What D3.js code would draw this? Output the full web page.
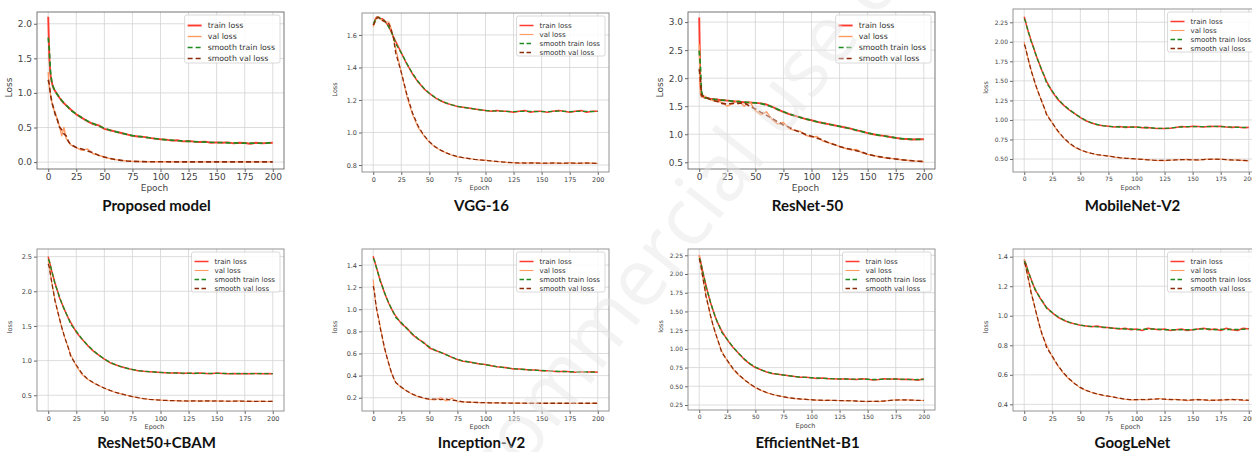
<!DOCTYPE html>
<html>
<head>
<meta charset="utf-8">
<script src="https://cdnjs.cloudflare.com/ajax/libs/d3/7.8.5/d3.min.js"></script>
<style>
body{margin:0;background:#fff;}
svg{display:block;}
</style>
</head>
<body>
<svg id="fig" width="1252" height="452"></svg>
<script>
// epochs sampled from the curves (dense at the start, every 5 epochs after)
var epochs = [0,1,2,3,4,5,6,8,10,12,14,16,18,20,25,30,35,40,45,50,55,60,65,70,75,80,85,90,95,100,105,110,115,120,125,130,135,140,145,150,155,160,165,170,175,180,185,190,195,200];
var xTicks = [0,25,50,75,100,125,150,175,200];
var legendLabels = ["train loss","val loss","smooth train loss","smooth val loss"];

var titles = ["Proposed model","VGG-16","ResNet-50","MobileNet-V2","ResNet50+CBAM","Inception-V2","EfficientNet-B1","GoogLeNet"];

var proposedTrain = [2.10,1.50,1.26,1.17,1.10,1.06,1.03,0.98,0.93,0.89,0.85,0.82,0.79,0.76,0.69,0.64,0.59,0.55,0.53,0.48,0.46,0.44,0.42,0.40,0.38,0.37,0.365,0.35,0.34,0.33,0.325,0.31,0.315,0.30,0.305,0.295,0.29,0.295,0.28,0.285,0.28,0.285,0.27,0.28,0.275,0.265,0.28,0.27,0.275,0.28];
var proposedVal = [1.30,1.08,0.98,0.88,0.82,0.76,0.72,0.62,0.52,0.38,0.50,0.34,0.30,0.25,0.21,0.17,0.19,0.12,0.10,0.07,0.05,0.035,0.025,0.015,0.01,0.008,0.006,0.005,0.005,0.004,0.004,0.004,0.003,0.003,0.003,0.003,0.003,0.003,0.003,0.003,0.003,0.003,0.003,0.003,0.003,0.003,0.003,0.003,0.003,0.003];

var vggTrain = [1.66,1.68,1.70,1.71,1.71,1.71,1.70,1.70,1.69,1.67,1.65,1.62,1.59,1.56,1.49,1.42,1.36,1.31,1.27,1.24,1.215,1.195,1.18,1.17,1.16,1.155,1.15,1.145,1.14,1.135,1.13,1.135,1.13,1.13,1.125,1.13,1.135,1.125,1.13,1.13,1.125,1.13,1.135,1.13,1.125,1.13,1.135,1.125,1.13,1.13];
var vggVal = [1.65,1.67,1.69,1.70,1.71,1.71,1.70,1.69,1.68,1.68,1.68,1.64,1.58,1.52,1.37,1.22,1.11,1.03,0.98,0.94,0.91,0.89,0.875,0.86,0.85,0.845,0.84,0.835,0.83,0.83,0.825,0.82,0.82,0.815,0.815,0.81,0.815,0.81,0.815,0.81,0.81,0.815,0.81,0.81,0.815,0.81,0.81,0.815,0.81,0.81];

var resnetTrain = [3.08,1.90,1.72,1.68,1.66,1.65,1.65,1.64,1.63,1.63,1.62,1.62,1.61,1.61,1.60,1.59,1.58,1.57,1.565,1.56,1.55,1.53,1.49,1.44,1.40,1.36,1.33,1.30,1.27,1.25,1.22,1.20,1.18,1.16,1.14,1.12,1.10,1.07,1.05,1.02,1.00,0.98,0.97,0.95,0.935,0.92,0.915,0.905,0.91,0.91];
var resnetVal = [2.60,1.72,1.66,1.70,1.67,1.68,1.66,1.64,1.62,1.60,1.60,1.58,1.58,1.57,1.50,1.55,1.60,1.50,1.58,1.42,1.35,1.40,1.26,1.18,1.21,1.10,1.07,1.05,0.98,0.95,0.96,0.88,0.85,0.82,0.78,0.75,0.72,0.73,0.67,0.64,0.62,0.60,0.58,0.57,0.56,0.545,0.535,0.525,0.52,0.51];

var mobileTrain = [2.32,2.27,2.21,2.16,2.11,2.07,2.02,1.94,1.85,1.77,1.70,1.62,1.56,1.49,1.36,1.26,1.19,1.13,1.08,1.03,0.99,0.96,0.94,0.925,0.92,0.91,0.915,0.905,0.91,0.91,0.90,0.905,0.895,0.89,0.89,0.895,0.905,0.915,0.91,0.92,0.915,0.91,0.92,0.915,0.92,0.91,0.905,0.91,0.90,0.905];
var mobileVal = [2.00,1.93,1.87,1.81,1.75,1.70,1.65,1.55,1.45,1.37,1.30,1.22,1.15,1.08,0.96,0.85,0.77,0.70,0.65,0.615,0.59,0.57,0.555,0.545,0.54,0.525,0.515,0.51,0.505,0.50,0.495,0.49,0.485,0.48,0.48,0.485,0.49,0.49,0.495,0.49,0.485,0.495,0.50,0.495,0.50,0.49,0.485,0.49,0.48,0.475];

var cbamTrain = [2.50,2.43,2.37,2.30,2.24,2.18,2.12,2.02,1.91,1.83,1.75,1.68,1.61,1.55,1.41,1.31,1.22,1.14,1.08,1.02,0.97,0.94,0.91,0.89,0.87,0.855,0.845,0.84,0.835,0.83,0.825,0.82,0.825,0.815,0.82,0.815,0.82,0.815,0.81,0.82,0.815,0.81,0.815,0.81,0.815,0.81,0.815,0.81,0.815,0.81];
var cbamVal = [2.45,2.34,2.24,2.14,2.05,1.96,1.88,1.74,1.60,1.48,1.37,1.27,1.18,1.09,0.92,0.80,0.73,0.68,0.64,0.60,0.57,0.54,0.52,0.50,0.48,0.465,0.45,0.44,0.435,0.43,0.425,0.42,0.425,0.415,0.42,0.415,0.42,0.415,0.42,0.415,0.42,0.41,0.415,0.42,0.41,0.415,0.41,0.415,0.41,0.415];

var inceptionTrain = [1.48,1.44,1.41,1.37,1.34,1.30,1.27,1.21,1.15,1.10,1.05,1.01,0.97,0.94,0.87,0.83,0.77,0.73,0.70,0.65,0.63,0.61,0.59,0.565,0.545,0.53,0.525,0.515,0.505,0.50,0.49,0.48,0.475,0.47,0.46,0.46,0.455,0.45,0.45,0.445,0.445,0.44,0.435,0.44,0.435,0.43,0.435,0.43,0.435,0.43];
var inceptionVal = [1.27,1.15,1.07,1.00,0.95,0.91,0.86,0.75,0.64,0.58,0.50,0.43,0.38,0.34,0.29,0.26,0.23,0.21,0.195,0.185,0.18,0.20,0.17,0.195,0.165,0.162,0.16,0.158,0.156,0.155,0.154,0.153,0.152,0.152,0.151,0.151,0.15,0.15,0.15,0.15,0.15,0.15,0.15,0.15,0.15,0.15,0.15,0.15,0.15,0.15];

var effTrain = [2.25,2.18,2.11,2.04,1.97,1.91,1.85,1.73,1.62,1.53,1.44,1.36,1.30,1.24,1.12,1.02,0.94,0.86,0.80,0.75,0.72,0.69,0.67,0.66,0.65,0.64,0.63,0.62,0.62,0.615,0.605,0.61,0.60,0.60,0.595,0.60,0.595,0.59,0.60,0.595,0.585,0.59,0.60,0.595,0.60,0.59,0.595,0.59,0.58,0.60];
var effVal = [2.25,2.15,2.06,1.97,1.88,1.80,1.72,1.58,1.44,1.33,1.23,1.14,1.05,0.97,0.84,0.73,0.65,0.59,0.53,0.48,0.445,0.415,0.39,0.375,0.36,0.345,0.335,0.33,0.325,0.32,0.315,0.31,0.315,0.31,0.31,0.305,0.31,0.30,0.30,0.295,0.30,0.295,0.305,0.31,0.32,0.315,0.32,0.315,0.31,0.31];

var googleTrain = [1.38,1.36,1.34,1.31,1.29,1.27,1.25,1.21,1.17,1.15,1.12,1.10,1.075,1.055,1.02,0.99,0.97,0.955,0.945,0.935,0.93,0.925,0.93,0.92,0.92,0.915,0.91,0.915,0.905,0.91,0.90,0.915,0.91,0.905,0.91,0.90,0.905,0.91,0.90,0.905,0.91,0.915,0.905,0.91,0.90,0.915,0.905,0.90,0.915,0.91];
var googleVal = [1.38,1.34,1.31,1.27,1.24,1.20,1.17,1.10,1.04,0.98,0.92,0.87,0.83,0.80,0.72,0.66,0.61,0.57,0.54,0.51,0.495,0.48,0.47,0.46,0.455,0.45,0.44,0.435,0.43,0.43,0.435,0.43,0.435,0.44,0.435,0.43,0.435,0.43,0.425,0.43,0.435,0.43,0.425,0.43,0.425,0.435,0.43,0.435,0.425,0.43];

// y tick labels per panel
var ticksProposed = [0.0,0.5,1.0,1.5,2.0];
var ticksVgg = [0.8,1.0,1.2,1.4,1.6];
var ticksResnet = [0.5,1.0,1.5,2.0,2.5,3.0];
var ticksMobile = [0.5,0.75,1.0,1.25,1.5,1.75,2.0,2.25];
var ticksCbam = [0.5,1.0,1.5,2.0,2.5];
var ticksInception = [0.2,0.4,0.6,0.8,1.0,1.2,1.4];
var ticksEff = [0.25,0.5,0.75,1.0,1.25,1.5,1.75,2.0,2.25];
var ticksGoogle = [0.4,0.6,0.8,1.0,1.2,1.4];

// layout (axes box positions in px, y limits)
var panels = [
  {i:0, train:proposedTrain, val:proposedVal, yt:ticksProposed, fmt:".1f", ylab:"Loss", x0:37,  y0:12,  y1:169, ylim:[-0.10,2.17], big:true},
  {i:1, train:vggTrain, val:vggVal, yt:ticksVgg, fmt:".1f", ylab:"Loss", x0:362, y0:13,  y1:172, ylim:[0.757,1.735], big:false},
  {i:2, train:resnetTrain, val:resnetVal, yt:ticksResnet, fmt:".1f", ylab:"Loss", x0:688, y0:12,  y1:169, ylim:[0.38,3.18], big:true},
  {i:3, train:mobileTrain, val:mobileVal, yt:ticksMobile, fmt:".2f", ylab:"loss", x0:1013, y0:9, y1:172, ylim:[0.334,2.42], big:false},
  {i:4, train:cbamTrain, val:cbamVal, yt:ticksCbam, fmt:".1f", ylab:"loss", x0:37,  y0:249, y1:411, ylim:[0.273,2.61], big:false},
  {i:5, train:inceptionTrain, val:inceptionVal, yt:ticksInception, fmt:".1f", ylab:"loss", x0:362, y0:249, y1:411, ylim:[0.08,1.545], big:false},
  {i:6, train:effTrain, val:effVal, yt:ticksEff, fmt:".2f", ylab:"loss", x0:688, y0:249, y1:410, ylim:[0.183,2.334], big:false},
  {i:7, train:googleTrain, val:googleVal, yt:ticksGoogle, fmt:".1f", ylab:"loss", x0:1013, y0:249, y1:411, ylim:[0.355,1.452], big:false}
];
var titleY = [211, 211, 211, 211, 448, 448, 448, 448];

var W = 247;
var colTrain = "#ff3b2f", colVal = "#ff9a62", colSTrain = "#1f8a1f", colSVal = "#8b2a08";

var svg = d3.select("#fig");

// 3 point moving average, as the "smooth" curves
var smooth = function(a){
  return a.map(function(v,i){
    var s = a.slice(Math.max(0,i-1), i+2);
    return d3.mean(s);
  });
};

var drawPanel = function(p){
  var fs = p.big ? 9 : (p.fmt == ".2f" ? 6 : 6.5);
  var x = d3.scaleLinear().domain([-10,210]).range([p.x0, p.x0+W]);
  var y = d3.scaleLinear().domain(p.ylim).range([p.y1, p.y0]);
  var g = svg.append("g");

  var cid = "clip"+p.i;
  g.append("clipPath").attr("id",cid).append("rect")
    .attr("x",p.x0).attr("y",p.y0).attr("width",W).attr("height",p.y1-p.y0);

  // grid
  g.selectAll(".gx").data(xTicks).enter().append("line")
    .attr("x1",function(d){return x(d);}).attr("x2",function(d){return x(d);})
    .attr("y1",p.y0).attr("y2",p.y1)
    .attr("stroke","#d4d4d4").attr("stroke-width",0.8);
  g.selectAll(".gy").data(p.yt).enter().append("line")
    .attr("x1",p.x0).attr("x2",p.x0+W)
    .attr("y1",function(d){return y(d);}).attr("y2",function(d){return y(d);})
    .attr("stroke","#d4d4d4").attr("stroke-width",0.8);

  // axes
  var ax = g.append("g").attr("transform","translate(0,"+p.y1+")")
    .call(d3.axisBottom(x).tickValues(xTicks).tickSize(3).tickPadding(2).tickFormat(d3.format("d")));
  var ay = g.append("g").attr("transform","translate("+p.x0+",0)")
    .call(d3.axisLeft(y).tickValues(p.yt).tickSize(3).tickPadding(2).tickFormat(d3.format(p.fmt)));
  [ax, ay].forEach(function(a){
    a.select(".domain").remove();
    a.selectAll("line").attr("stroke","#666");
    a.selectAll("text").attr("font-family","DejaVu Sans").attr("font-size",fs).attr("fill","#444");
  });

  g.append("text").attr("x", p.x0 + W/2 - 6).attr("y", p.y1 + (p.big ? 22 : 18))
    .attr("text-anchor","middle").attr("font-family","DejaVu Sans").attr("font-size",p.big ? 9 : 6.5)
    .attr("fill","#444").text("Epoch");
  g.append("text")
    .attr("transform","translate("+(p.x0-25)+","+((p.y0+p.y1)/2 - 3)+") rotate(-90)")
    .attr("text-anchor","middle").attr("font-family","DejaVu Sans").attr("font-size",p.big ? 9 : 6.5)
    .attr("fill","#444").text(p.ylab);

  // curves
  var line = d3.line().x(function(d,i){return x(epochs[i]);}).y(function(d){return y(d);});
  var lw = p.big ? 1 : 0.8;
  var series = [
    {v:p.train, c:colTrain, w:1.9*lw, dash:null},
    {v:p.val, c:colVal, w:1.4*lw, dash:null},
    {v:smooth(p.train), c:colSTrain, w:1.7*lw, dash: p.big ? "5,3" : "4.5,2.5"},
    {v:smooth(p.val), c:colSVal, w:1.6*lw, dash: p.big ? "5,3" : "4.5,2.5"}
  ];
  var lg = g.append("g").attr("clip-path","url(#"+cid+")");
  series.forEach(function(s){
    lg.append("path").attr("d", line(s.v)).attr("fill","none")
      .attr("stroke", s.c).attr("stroke-width", s.w)
      .attr("stroke-dasharray", s.dash).attr("stroke-linejoin","round");
  });

  // box
  g.append("rect").attr("x",p.x0).attr("y",p.y0).attr("width",W).attr("height",p.y1-p.y0)
    .attr("fill","none").attr("stroke", p.big ? "#666" : "#888").attr("stroke-width",0.9);

  // legend
  var sp = p.big ? 11 : 9, lfs = p.big ? 7.8 : 7, ll = 14;
  var leg = g.append("g");
  var frame = leg.append("rect");
  var texts = [];
  legendLabels.forEach(function(t,k){
    var t0 = leg.append("text").attr("font-family","DejaVu Sans").attr("font-size",lfs)
      .attr("fill","#333").attr("dy","0.35em").text(t);
    texts.push(t0);
  });
  var tw = d3.max(texts, function(t){return t.node().getComputedTextLength();});
  var boxW = ll + 6 + tw + 8;
  var bx = p.x0 + W - 4 - boxW, by = p.y0 + 3;
  frame.attr("x",bx).attr("y",by).attr("width",boxW).attr("height", sp*4 + 4)
    .attr("rx",2).attr("fill","#fff").attr("fill-opacity",0.85).attr("stroke","#d0d0d0").attr("stroke-width",0.8);
  series.forEach(function(s,k){
    var yy = by + 6 + sp*k + sp/2 - 1;
    leg.append("line").attr("x1",bx+3).attr("x2",bx+3+ll).attr("y1",yy).attr("y2",yy)
      .attr("stroke",s.c).attr("stroke-width",s.w).attr("stroke-dasharray",s.dash);
    texts[k].attr("x",bx+3+ll+6).attr("y",yy);
  });

  // title
  svg.append("text").attr("x", p.x0 + W/2 - 4).attr("y", titleY[p.i])
    .attr("text-anchor","middle").attr("font-family","Lato").attr("font-weight",700)
    .attr("font-size",15).attr("fill","#111").text(titles[p.i]);
};

panels.forEach(function(p){ drawPanel(p); });

// faint watermark laid over the figure
svg.append("text")
  .attr("transform", "translate(500,500) rotate(-52)")
  .attr("font-family", "Open Sans")
  .attr("font-size", 80)
  .attr("fill", "#e4e4e4")
  .attr("fill-opacity", 0.45)
  .text("commercial use only");
</script>
</body>
</html>
